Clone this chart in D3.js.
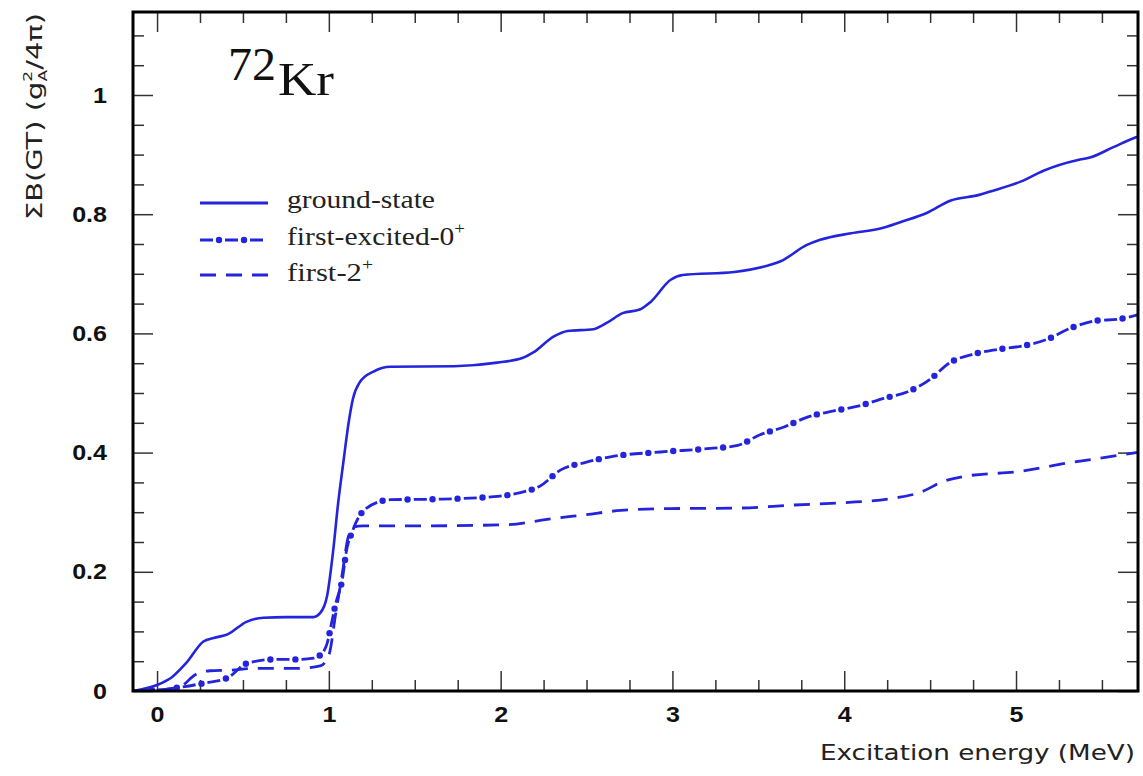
<!DOCTYPE html>
<html><head><meta charset="utf-8">
<script src="https://cdn.jsdelivr.net/npm/d3@7"></script>
<style>body{margin:0;background:#fff}svg{display:block}</style>
</head><body>
<svg id="chart" width="1143" height="776"></svg>
<script>
// ---- data ----
const xTicks = [0, 1, 2, 3, 4, 5];
const xTickLabels = ['0', '1', '2', '3', '4', '5'];
const yTicks = [0, 0.2, 0.4, 0.6, 0.8, 1];
const yTickLabels = ['0', '0.2', '0.4', '0.6', '0.8', '1'];
const seriesNames = ['ground-state', 'first-excited-0', 'first-2'];

const gsEnergy = [-0.14,0.0,0.09,0.17,0.27,0.33,0.41,0.52,0.62,0.75,0.91,0.95,0.99,1.025,1.054,1.085,1.115,1.14,1.18,1.26,1.36,1.73,1.98,2.13,2.19,2.31,2.39,2.54,2.62,2.71,2.81,2.87,2.99,3.06,3.36,3.57,3.63,3.78,3.86,4.04,4.21,4.33,4.48,4.62,4.78,4.85,5.03,5.16,5.36,5.43,5.57,5.68,5.72];
const gsValues = [0,0.01,0.024,0.047,0.083,0.089,0.095,0.116,0.123,0.124,0.124,0.131,0.16,0.235,0.315,0.385,0.45,0.49,0.518,0.536,0.544,0.545,0.551,0.559,0.568,0.595,0.604,0.607,0.618,0.634,0.64,0.652,0.69,0.698,0.703,0.715,0.721,0.748,0.757,0.768,0.776,0.787,0.802,0.823,0.832,0.838,0.855,0.873,0.891,0.895,0.913,0.927,0.931];

const fxEnergy = [-0.14,0.02,0.13,0.27,0.41,0.52,0.68,0.83,0.91,0.96,0.99,1.02,1.04,1.08,1.1,1.14,1.22,1.36,1.65,1.96,2.1,2.23,2.35,2.5,2.64,2.93,3.22,3.38,3.51,3.65,3.79,3.94,4.08,4.23,4.37,4.5,4.61,4.75,4.89,5.04,5.18,5.32,5.46,5.6,5.72];
const fxValues = [0,0.002,0.006,0.013,0.022,0.046,0.053,0.053,0.055,0.063,0.08,0.12,0.147,0.19,0.231,0.27,0.307,0.321,0.322,0.326,0.332,0.344,0.371,0.384,0.393,0.401,0.407,0.412,0.43,0.443,0.46,0.47,0.478,0.491,0.502,0.523,0.55,0.565,0.573,0.579,0.59,0.609,0.621,0.624,0.632];

const f2Energy = [-0.14,0.035,0.15,0.22,0.31,0.43,0.56,0.81,0.95,1.0,1.04,1.08,1.11,1.14,1.2,1.5,2.04,2.27,2.5,2.7,2.98,3.4,3.7,4.0,4.3,4.44,4.58,4.72,5.01,5.29,5.59,5.72];
const f2Values = [0,0.002,0.01,0.027,0.034,0.035,0.038,0.038,0.042,0.06,0.13,0.2,0.255,0.275,0.277,0.277,0.279,0.288,0.296,0.303,0.306,0.307,0.312,0.316,0.324,0.333,0.352,0.361,0.368,0.382,0.395,0.401];

// ---- setup ----
const svg = d3.select('#chart');
const L = 133, R = 1138, T = 12, B = 691;
const x = d3.scaleLinear().domain([-0.14, 5.71]).range([L, R]);
const y = d3.scaleLinear().domain([0, (B - T) / 596]).range([B, T]);
const blue = '#2424dc';
const tickColor = '#333';

svg.append('defs').append('clipPath').attr('id', 'clip')
  .append('rect').attr('x', L).attr('y', T).attr('width', R - L).attr('height', B - T);

function stretch(sel, k) {
  sel.each(function () {
    const len = this.getComputedTextLength();
    d3.select(this).attr('textLength', len * k).attr('lengthAdjust', 'spacingAndGlyphs');
  });
}
function styleAxis(g) {
  g.select('.domain').remove();
  g.selectAll('.tick line').attr('stroke', tickColor).attr('stroke-width', 1.5);
  g.attr('font-family', '"Liberation Sans", Arial, sans-serif').attr('font-size', 22).attr('font-weight', 'bold');
  g.selectAll('.tick text').attr('fill', '#111');
}

const xMinor = d3.range(0, 5.75, 0.25).filter(v => Math.abs(v - Math.round(v)) > 1e-6);
const yMinor = d3.range(0, 1.14, 0.05).filter(v => Math.abs(v * 5 - Math.round(v * 5)) > 1e-6);

// bottom
const gxb = svg.append('g').attr('transform', `translate(0,${B})`)
  .call(d3.axisBottom(x).tickValues(xTicks).tickSize(-20).tickPadding(15).tickFormat((d, i) => xTickLabels[i]))
  .call(styleAxis);
svg.append('g').attr('transform', `translate(0,${B})`)
  .call(d3.axisBottom(x).tickValues(xMinor).tickSize(-11).tickFormat('')).call(styleAxis);
// top
svg.append('g').attr('transform', `translate(0,${T})`)
  .call(d3.axisTop(x).tickValues(xTicks).tickSize(-20).tickFormat('')).call(styleAxis);
svg.append('g').attr('transform', `translate(0,${T})`)
  .call(d3.axisTop(x).tickValues(xMinor).tickSize(-11).tickFormat('')).call(styleAxis);
// left
const gyl = svg.append('g').attr('transform', `translate(${L},0)`)
  .call(d3.axisLeft(y).tickValues(yTicks).tickSize(-20).tickPadding(26).tickFormat((d, i) => yTickLabels[i]))
  .call(styleAxis);
svg.append('g').attr('transform', `translate(${L},0)`)
  .call(d3.axisLeft(y).tickValues(yMinor).tickSize(-11).tickFormat('')).call(styleAxis);
// right
svg.append('g').attr('transform', `translate(${R},0)`)
  .call(d3.axisRight(y).tickValues(yTicks).tickSize(-20).tickFormat('')).call(styleAxis);
svg.append('g').attr('transform', `translate(${R},0)`)
  .call(d3.axisRight(y).tickValues(yMinor).tickSize(-11).tickFormat('')).call(styleAxis);

stretch(gxb.selectAll('.tick text'), 1.14);
stretch(gyl.selectAll('.tick text'), 1.14);

// ---- lines ----
const line = d3.line().x(d => x(d[0])).y(d => y(d[1])).curve(d3.curveMonotoneX);
const plot = svg.append('g').attr('clip-path', 'url(#clip)');

const gsData = gsEnergy.map((e, i) => [e, gsValues[i]]);
const fxData = fxEnergy.map((e, i) => [e, fxValues[i]]);
const f2Data = f2Energy.map((e, i) => [e, f2Values[i]]);

plot.append('path').datum(f2Data).attr('d', line)
  .attr('fill', 'none').attr('stroke', blue).attr('stroke-width', 2.8)
  .attr('stroke-dasharray', '16,10');

const fxPath = plot.append('path').datum(fxData).attr('d', line)
  .attr('fill', 'none').attr('stroke', blue).attr('stroke-width', 2.8)
  .attr('stroke-dasharray', '13,12');
(function () {
  const node = fxPath.node();
  const total = node.getTotalLength();
  const pts = [];
  for (let s = 19; s < total; s += 25) pts.push(node.getPointAtLength(s));
  plot.selectAll('circle.fxdot').data(pts).join('circle').attr('class', 'fxdot')
    .attr('cx', p => p.x).attr('cy', p => p.y).attr('r', 3.2).attr('fill', blue);
})();

plot.append('path').datum(gsData).attr('d', line)
  .attr('fill', 'none').attr('stroke', blue).attr('stroke-width', 2.6);

// frame
svg.append('rect').attr('x', L).attr('y', T).attr('width', R - L).attr('height', B - T)
  .attr('fill', 'none').attr('stroke', '#000').attr('stroke-width', 3);

// ---- legend ----
const lg = svg.append('g');
const legY = [203, 240, 275];
lg.append('line').attr('x1', 200).attr('x2', 268).attr('y1', legY[0]).attr('y2', legY[0])
  .attr('stroke', blue).attr('stroke-width', 2.8);
lg.append('line').attr('x1', 200).attr('x2', 268).attr('y1', legY[1]).attr('y2', legY[1])
  .attr('stroke', blue).attr('stroke-width', 2.8).attr('stroke-dasharray', '13,12');
[219, 244].forEach(cx => lg.append('circle').attr('cx', cx).attr('cy', legY[1]).attr('r', 3.2).attr('fill', blue));
lg.append('line').attr('x1', 200).attr('x2', 268).attr('y1', legY[2]).attr('y2', legY[2])
  .attr('stroke', blue).attr('stroke-width', 2.8).attr('stroke-dasharray', '16,10');

const serif = '"Liberation Serif", "Times New Roman", serif';
const t1 = lg.append('text').attr('x', 287).attr('y', 208).attr('font-family', serif).attr('font-size', 25)
  .attr('fill', '#222').text(seriesNames[0]).attr('textLength', 148).attr('lengthAdjust', 'spacingAndGlyphs');
const t2 = lg.append('text').attr('x', 287).attr('y', 245).attr('font-family', serif).attr('font-size', 25).attr('fill', '#222');
t2.append('tspan').text(seriesNames[1]);
t2.append('tspan').attr('font-size', 16).attr('dy', -11).text('+');
t2.attr('textLength', 178).attr('lengthAdjust', 'spacingAndGlyphs');
const t3 = lg.append('text').attr('x', 287).attr('y', 281).attr('font-family', serif).attr('font-size', 25).attr('fill', '#222');
t3.append('tspan').text(seriesNames[2]);
t3.append('tspan').attr('font-size', 16).attr('dy', -11).text('+');
t3.attr('textLength', 86).attr('lengthAdjust', 'spacingAndGlyphs');

// ---- title 72Kr ----
svg.append('text').attr('x', 228).attr('y', 80).attr('font-family', serif).attr('font-size', 46)
  .attr('fill', '#111').text('72').attr('textLength', 48).attr('lengthAdjust', 'spacingAndGlyphs');
svg.append('text').attr('x', 278).attr('y', 95).attr('font-family', serif).attr('font-size', 46)
  .attr('fill', '#111').text('Kr').attr('textLength', 56).attr('lengthAdjust', 'spacingAndGlyphs');

// ---- axis titles ----
const sans = '"DejaVu Sans", Verdana, sans-serif';
svg.append('text').attr('x', 1135).attr('y', 760).attr('text-anchor', 'end')
  .attr('font-family', sans).attr('font-size', 22).attr('fill', '#222')
  .text('Excitation energy (MeV)').attr('textLength', 315).attr('lengthAdjust', 'spacingAndGlyphs');

const yt = svg.append('text').attr('transform', 'translate(42,220) rotate(-90)')
  .attr('font-family', sans).attr('font-size', 22).attr('fill', '#222');
yt.append('tspan').text('ΣB(GT) (g');
yt.append('tspan').attr('font-size', 13).attr('dy', -10).text('2');
yt.append('tspan').attr('font-size', 13).attr('dx', -8).attr('dy', 15).text('A');
yt.append('tspan').attr('dy', -5).text('/4π)');
yt.attr('textLength', 207).attr('lengthAdjust', 'spacingAndGlyphs');
</script>
</body></html>
